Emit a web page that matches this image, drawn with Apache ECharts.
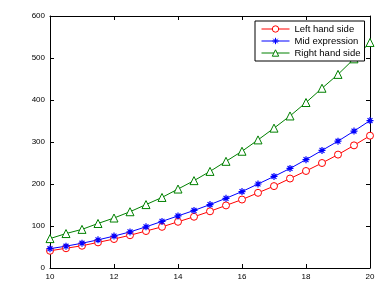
<!DOCTYPE html>
<html>
<head>
<meta charset="utf-8">
<script src="https://cdn.jsdelivr.net/npm/echarts@6/dist/echarts.min.js"></script>
<style>
html,body{margin:0;padding:0;background:#fff;}
#chart{width:391px;height:300px;}
</style>
</head>
<body>
<div id="chart"></div>
<script>
const xValues = [10,10.5,11,11.5,12,12.5,13,13.5,14,14.5,15,15.5,16,16.5,17,17.5,18,18.5,19,19.5,20];
const leftHandSide = [41,47,53,61,69,78,88,98,110,122,135,149,163,179,195,213,231,250,270,292,315];
const midExpression = [46,52,59,67,76,86,98,111,124,137,151,166,182,200,218,237,258,280,302,326,351];
const rightHandSide = [70,82,92,106,119,134,151,168,188,208,230,254,278,305,333,362,394,428,461,498,537];
const seriesNames = ['Left hand side','Mid expression','Right hand side'];
const xTicks = [10,12,14,16,18,20];
const yTicks = [0,100,200,300,400,500,600];

const pairs = arr => xValues.map((x,i)=>[x,arr[i]]);
const font = 'Liberation Sans, Arial, Helvetica, sans-serif';
const asterisk = 'path://M0,-10L0,10M-10,0L10,0M-7,-7L7,7M-7,7L7,-7';

const chart = echarts.init(document.getElementById('chart'), null, {renderer:'canvas'});
const baseX = {
  type:'value', min:xTicks[0], max:xTicks[xTicks.length-1], interval:2,
  axisLine:{show:true, onZero:false, lineStyle:{color:'#000', width:1}},
  axisTick:{show:true, inside:true, length:4, lineStyle:{color:'#000'}},
  splitLine:{show:false}
};
const baseY = {
  type:'value', min:yTicks[0], max:yTicks[yTicks.length-1], interval:100,
  axisLine:{show:true, onZero:false, lineStyle:{color:'#000', width:1}},
  axisTick:{show:true, inside:true, length:4, lineStyle:{color:'#000'}},
  splitLine:{show:false}
};
chart.setOption({
  animation:false,
  backgroundColor:'#fff',
  grid:{left:50, right:21, top:16, bottom:32, containLabel:false},
  xAxis:[
    Object.assign({}, baseX, {position:'bottom', axisLabel:{show:true, color:'#000', fontSize:8, fontFamily:font, margin:5}}),
    Object.assign({}, baseX, {position:'top', axisLabel:{show:false}})
  ],
  yAxis:[
    Object.assign({}, baseY, {position:'left', axisLabel:{show:true, color:'#000', fontSize:8, fontFamily:font, margin:5}}),
    Object.assign({}, baseY, {position:'right', axisLabel:{show:false}})
  ],
  legend:{
    orient:'vertical', left:255, top:21,
    width:108,
    padding:[3,4,3,6], itemGap:2, itemWidth:28, itemHeight:8,
    backgroundColor:'#fff', borderColor:'#000', borderWidth:1, borderRadius:0,
    lineStyle:{width:1},
    itemStyle:{borderWidth:1},
    textStyle:{color:'#000', fontSize:9.5, fontFamily:font},
    data:seriesNames
  },
  series:[
    {name:seriesNames[0], type:'line', data:pairs(leftHandSide), symbol:'circle', symbolSize:7,
     lineStyle:{color:'#ff0000', width:1}, itemStyle:{color:'#fff', borderColor:'#ff0000', borderWidth:1}},
    {name:seriesNames[1], type:'line', data:pairs(midExpression), symbol:asterisk, symbolSize:7,
     lineStyle:{color:'#0000ff', width:1}, itemStyle:{color:'#0000ff', borderColor:'#0000ff', borderWidth:1.2}},
    {name:seriesNames[2], type:'line', data:pairs(rightHandSide), symbol:'triangle', symbolSize:8,
     lineStyle:{color:'#008000', width:1}, itemStyle:{color:'#fff', borderColor:'#008000', borderWidth:1}}
  ]
});
</script>
</body>
</html>
